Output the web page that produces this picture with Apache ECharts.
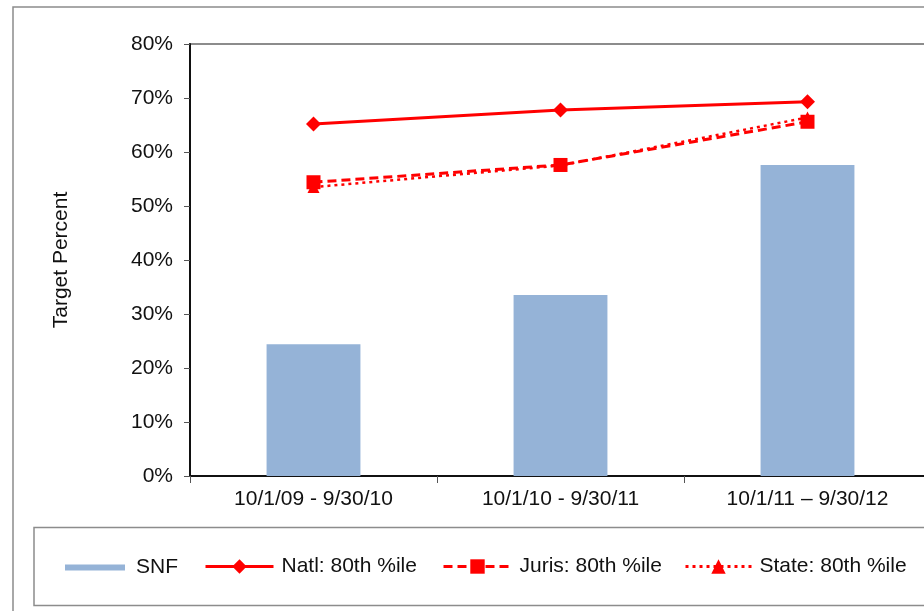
<!DOCTYPE html>
<html>
<head>
<meta charset="utf-8">
<script src="https://cdn.jsdelivr.net/npm/echarts@6/dist/echarts.min.js"></script>
<style>
  html, body { margin: 0; padding: 0; background: #fff; }
  #chart { width: 924px; height: 611px; }
</style>
</head>
<body>
<div id="chart"></div>
<script>
// Reporting periods and target percentages
const periods = ['10/1/09 - 9/30/10', '10/1/10 - 9/30/11', '10/1/11 \u2013 9/30/12'];
const snf = [24.4, 33.5, 57.6];
const natl80 = [65.2, 67.8, 69.3];
const juris80 = [54.4, 57.6, 65.6];
const state80 = [53.5, 57.5, 66.4];
const yTicks = { min: 0, max: 80, step: 10 };

const FONT = 'Liberation Sans, Arial, sans-serif';
const TXT = '#111';
const RED = '#ff0000';
const BLUE = '#95b3d7';
const GRAY = '#8c8c8c';
const FS = 21;

const chart = echarts.init(document.getElementById('chart'));

function legendAt(name, left, opts) {
  return Object.assign({
    data: [name],
    left: left,
    top: 556,
    itemGap: 0,
    itemWidth: 68,
    itemHeight: 18,
    padding: 0,
    selectedMode: false,
    lineStyle: { width: 3 },
    textStyle: { fontFamily: FONT, fontSize: FS, color: TXT, padding: [0, 0, 0, 3] }
  }, opts || {});
}

chart.setOption({
  animation: false,
  backgroundColor: '#fff',
  textStyle: { fontFamily: FONT },
  grid: {
    left: 190, width: 741, top: 44, bottom: 135,
    outerBoundsMode: 'none',
    show: true, borderColor: GRAY, borderWidth: 2, backgroundColor: 'transparent'
  },
  graphic: [
    { type: 'rect', shape: { x: 13, y: 7, width: 930, height: 640 },
      style: { fill: 'none', stroke: GRAY, lineWidth: 1.5 }, silent: true, z: -1 },
    { type: 'rect', shape: { x: 34, y: 527.5, width: 910, height: 78 },
      style: { fill: 'none', stroke: GRAY, lineWidth: 1.5 }, silent: true, z: -1 }
  ],
  legend: [
    legendAt('SNF', 65, { top: 557, itemWidth: 60, itemHeight: 6, icon: 'rect',
      textStyle: { fontFamily: FONT, fontSize: FS, color: TXT, padding: [0, 0, 0, 6] } }),
    legendAt('Natl: 80th %ile', 204),
    legendAt('Juris: 80th %ile', 442),
    legendAt('State: 80th %ile', 684, { itemWidth: 66 })
  ],
  xAxis: {
    type: 'category',
    data: periods,
    boundaryGap: true,
    axisLine: { lineStyle: { color: '#111', width: 2 } },
    axisTick: { show: true, length: 7, lineStyle: { color: '#555', width: 1 } },
    axisLabel: { fontFamily: FONT, fontSize: FS, color: TXT, margin: 13 },
    splitLine: { show: false }
  },
  yAxis: {
    type: 'value',
    min: yTicks.min, max: yTicks.max, interval: yTicks.step,
    name: 'Target Percent',
    nameLocation: 'middle',
    nameGap: 118,
    nameTextStyle: { fontFamily: FONT, fontSize: FS, color: TXT },
    axisLine: { show: true, lineStyle: { color: '#111', width: 2 } },
    axisTick: { show: true, length: 6, lineStyle: { color: '#555', width: 1 } },
    axisLabel: { fontFamily: FONT, fontSize: FS, color: TXT, margin: 17, formatter: '{value}%' },
    splitLine: { show: false }
  },
  series: [
    {
      name: 'SNF', type: 'bar', data: snf, barWidth: '38%',
      itemStyle: { color: BLUE }
    },
    {
      name: 'State: 80th %ile', type: 'line', data: state80,
      symbol: 'triangle', symbolSize: 12,
      lineStyle: { color: RED, width: 2.5, type: [3, 4] },
      itemStyle: { color: RED }
    },
    {
      name: 'Juris: 80th %ile', type: 'line', data: juris80,
      symbol: 'rect', symbolSize: 14,
      lineStyle: { color: RED, width: 3, type: [9, 5] },
      itemStyle: { color: RED }
    },
    {
      name: 'Natl: 80th %ile', type: 'line', data: natl80,
      symbol: 'diamond', symbolSize: 15,
      lineStyle: { color: RED, width: 3 },
      itemStyle: { color: RED }
    }
  ]
});
</script>
</body>
</html>
